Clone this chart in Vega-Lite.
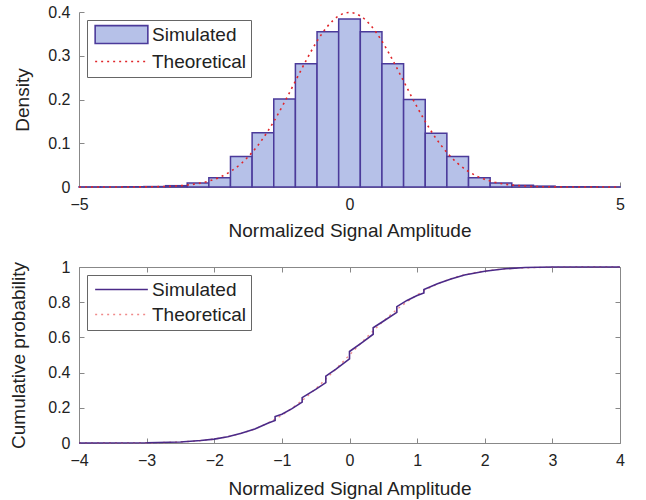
{
  "$schema": "https://vega.github.io/schema/vega-lite/v6.json",
  "padding": {"left": 9, "top": 4, "right": 5, "bottom": 1},
  "background": "white",
  "spacing": 18,
  "config": {
    "font": "Liberation Sans",
    "axis": {
      "labelFont": "Liberation Sans", "labelFontSize": 16, "labelColor": "#222",
      "titleFont": "Liberation Sans", "titleFontSize": 19, "titleFontWeight": "normal", "titleColor": "#222",
      "domainColor": "#888", "tickColor": "#888", "tickSize": -5, "grid": false, "labelPadding": 14,
      "labelFlush": false, "labelOverlap": false, "format": "~g"
    },
    "legend": {
      "labelFont": "Liberation Sans", "labelFontSize": 19, "labelColor": "#222",
      "strokeColor": "#666", "fillColor": "white", "padding": 5, "rowPadding": 5,
      "labelOffset": 21, "symbolOffset": 20, "symbolSize": 289, "symbolStrokeWidth": 1.6, "offset": 8, "orient": "top-left"
    }
  },
  "resolve": {"scale": {"stroke": "independent", "color": "independent"}, "legend": {"stroke": "independent", "color": "independent"}},
  "vconcat": [
    {
      "width": 541,
      "height": 175,
      "view": {"stroke": null},
      "layer": [
        {
          "data": {"values": [
            {"x0": -5.0, "x1": -4.6, "density": 0.0003, "series": "Simulated"},
            {"x0": -4.6, "x1": -4.2, "density": 0.0003, "series": "Simulated"},
            {"x0": -4.2, "x1": -3.8, "density": 0.0006, "series": "Simulated"},
            {"x0": -3.8, "x1": -3.4, "density": 0.001, "series": "Simulated"},
            {"x0": -3.4, "x1": -3.0, "density": 0.003, "series": "Simulated"},
            {"x0": -3.0, "x1": -2.6, "density": 0.009, "series": "Simulated"},
            {"x0": -2.6, "x1": -2.2, "density": 0.021, "series": "Simulated"},
            {"x0": -2.2, "x1": -1.8, "density": 0.07, "series": "Simulated"},
            {"x0": -1.8, "x1": -1.4, "density": 0.124, "series": "Simulated"},
            {"x0": -1.4, "x1": -1.0, "density": 0.201, "series": "Simulated"},
            {"x0": -1.0, "x1": -0.6, "density": 0.282, "series": "Simulated"},
            {"x0": -0.6, "x1": -0.2, "density": 0.355, "series": "Simulated"},
            {"x0": -0.2, "x1": 0.2, "density": 0.384, "series": "Simulated"},
            {"x0": 0.2, "x1": 0.6, "density": 0.355, "series": "Simulated"},
            {"x0": 0.6, "x1": 1.0, "density": 0.282, "series": "Simulated"},
            {"x0": 1.0, "x1": 1.4, "density": 0.2, "series": "Simulated"},
            {"x0": 1.4, "x1": 1.8, "density": 0.123, "series": "Simulated"},
            {"x0": 1.8, "x1": 2.2, "density": 0.07, "series": "Simulated"},
            {"x0": 2.2, "x1": 2.6, "density": 0.021, "series": "Simulated"},
            {"x0": 2.6, "x1": 3.0, "density": 0.009, "series": "Simulated"},
            {"x0": 3.0, "x1": 3.4, "density": 0.004, "series": "Simulated"},
            {"x0": 3.4, "x1": 3.8, "density": 0.002, "series": "Simulated"},
            {"x0": 3.8, "x1": 4.2, "density": 0.0008, "series": "Simulated"},
            {"x0": 4.2, "x1": 4.6, "density": 0.0004, "series": "Simulated"},
            {"x0": 4.6, "x1": 5.0, "density": 0.0003, "series": "Simulated"}
          ]},
          "mark": {"type": "bar", "fill": "#b6c1e8", "strokeWidth": 1.5, "fillOpacity": 1, "strokeOpacity": 1},
          "encoding": {
            "x": {"field": "x0", "type": "quantitative", "scale": {"domain": [-5, 5], "nice": false},
                  "axis": {"values": [-5, 0, 5], "title": "Normalized Signal Amplitude", "titlePadding": 9}},
            "x2": {"field": "x1"},
            "y": {"field": "density", "type": "quantitative", "scale": {"domain": [0, 0.4], "nice": false},
                  "axis": {"values": [0, 0.1, 0.2, 0.3, 0.4], "title": "Density", "titlePadding": 15}},
            "y2": {"datum": 0},
            "stroke": {"field": "series", "type": "nominal",
                      "scale": {"domain": ["Simulated", "Theoretical"], "range": ["#4b3a9a", "#e0262a"]},
                      "legend": {"title": null,
                        "encode": {"symbols": {"update": {
                          "shape": {"signal": "datum.value === 'Simulated' ? 'M-3.1,-1.05H3.1V1.05H-3.1Z' : 'M-3.1,0H3.1'"},
                          "fill": {"signal": "datum.value === 'Simulated' ? '#b6c1e8' : 'transparent'"},
                          "strokeDash": {"signal": "datum.value === 'Simulated' ? [1, 0] : [2, 4]"},
                          "opacity": {"value": 1}
                        }}}}}
          }
        },
        {
          "data": {"values": [
            {"x": -5.0, "pdf": 0.0, "series": "Theoretical"},
            {"x": -4.6, "pdf": 0.0, "series": "Theoretical"},
            {"x": -4.2, "pdf": 0.0001, "series": "Theoretical"},
            {"x": -4.0, "pdf": 0.0001, "series": "Theoretical"},
            {"x": -3.8, "pdf": 0.0003, "series": "Theoretical"},
            {"x": -3.6, "pdf": 0.0006, "series": "Theoretical"},
            {"x": -3.4, "pdf": 0.0012, "series": "Theoretical"},
            {"x": -3.2, "pdf": 0.0024, "series": "Theoretical"},
            {"x": -3.0, "pdf": 0.0044, "series": "Theoretical"},
            {"x": -2.8, "pdf": 0.0079, "series": "Theoretical"},
            {"x": -2.6, "pdf": 0.0136, "series": "Theoretical"},
            {"x": -2.4, "pdf": 0.0224, "series": "Theoretical"},
            {"x": -2.2, "pdf": 0.0355, "series": "Theoretical"},
            {"x": -2.0, "pdf": 0.054, "series": "Theoretical"},
            {"x": -1.8, "pdf": 0.079, "series": "Theoretical"},
            {"x": -1.6, "pdf": 0.1109, "series": "Theoretical"},
            {"x": -1.4, "pdf": 0.1497, "series": "Theoretical"},
            {"x": -1.2, "pdf": 0.1942, "series": "Theoretical"},
            {"x": -1.0, "pdf": 0.242, "series": "Theoretical"},
            {"x": -0.8, "pdf": 0.2897, "series": "Theoretical"},
            {"x": -0.6, "pdf": 0.3332, "series": "Theoretical"},
            {"x": -0.4, "pdf": 0.3683, "series": "Theoretical"},
            {"x": -0.2, "pdf": 0.391, "series": "Theoretical"},
            {"x": 0.0, "pdf": 0.3989, "series": "Theoretical"},
            {"x": 0.2, "pdf": 0.391, "series": "Theoretical"},
            {"x": 0.4, "pdf": 0.3683, "series": "Theoretical"},
            {"x": 0.6, "pdf": 0.3332, "series": "Theoretical"},
            {"x": 0.8, "pdf": 0.2897, "series": "Theoretical"},
            {"x": 1.0, "pdf": 0.242, "series": "Theoretical"},
            {"x": 1.2, "pdf": 0.1942, "series": "Theoretical"},
            {"x": 1.4, "pdf": 0.1497, "series": "Theoretical"},
            {"x": 1.6, "pdf": 0.1109, "series": "Theoretical"},
            {"x": 1.8, "pdf": 0.079, "series": "Theoretical"},
            {"x": 2.0, "pdf": 0.054, "series": "Theoretical"},
            {"x": 2.2, "pdf": 0.0355, "series": "Theoretical"},
            {"x": 2.4, "pdf": 0.0224, "series": "Theoretical"},
            {"x": 2.6, "pdf": 0.0136, "series": "Theoretical"},
            {"x": 2.8, "pdf": 0.0079, "series": "Theoretical"},
            {"x": 3.0, "pdf": 0.0044, "series": "Theoretical"},
            {"x": 3.2, "pdf": 0.0024, "series": "Theoretical"},
            {"x": 3.4, "pdf": 0.0012, "series": "Theoretical"},
            {"x": 3.6, "pdf": 0.0006, "series": "Theoretical"},
            {"x": 3.8, "pdf": 0.0003, "series": "Theoretical"},
            {"x": 4.0, "pdf": 0.0001, "series": "Theoretical"},
            {"x": 4.2, "pdf": 0.0001, "series": "Theoretical"},
            {"x": 4.6, "pdf": 0.0, "series": "Theoretical"},
            {"x": 5.0, "pdf": 0.0, "series": "Theoretical"}
          ]},
          "mark": {"type": "line", "strokeDash": [2, 4], "strokeWidth": 1.6, "interpolate": "monotone"},
          "encoding": {
            "x": {"field": "x", "type": "quantitative"},
            "y": {"field": "pdf", "type": "quantitative"},
            "stroke": {"field": "series", "type": "nominal",
                      "legend": {"title": null,
                        "encode": {"symbols": {"update": {
                          "shape": {"signal": "datum.value === 'Simulated' ? 'M-3.1,-1.05H3.1V1.05H-3.1Z' : 'M-3.1,0H3.1'"},
                          "fill": {"signal": "datum.value === 'Simulated' ? '#b6c1e8' : 'transparent'"},
                          "strokeDash": {"signal": "datum.value === 'Simulated' ? [1, 0] : [2, 4]"},
                          "opacity": {"value": 1}
                        }}}}}
          }
        }
      ]
    },
    {
      "width": 541,
      "height": 176,
      "view": {"stroke": "#888"},
      "resolve": {"axis": {"x": "independent", "y": "independent"}},
      "layer": [
        {
          "data": {"values": [
            {"x": -4.0, "cdf": 0.0, "series": "Theoretical"},
            {"x": -3.5, "cdf": 0.0002, "series": "Theoretical"},
            {"x": -3.0, "cdf": 0.0013, "series": "Theoretical"},
            {"x": -2.75, "cdf": 0.003, "series": "Theoretical"},
            {"x": -2.5, "cdf": 0.0062, "series": "Theoretical"},
            {"x": -2.25, "cdf": 0.0122, "series": "Theoretical"},
            {"x": -2.0, "cdf": 0.0228, "series": "Theoretical"},
            {"x": -1.75, "cdf": 0.0401, "series": "Theoretical"},
            {"x": -1.5, "cdf": 0.0668, "series": "Theoretical"},
            {"x": -1.25, "cdf": 0.1056, "series": "Theoretical"},
            {"x": -1.0, "cdf": 0.1587, "series": "Theoretical"},
            {"x": -0.75, "cdf": 0.2266, "series": "Theoretical"},
            {"x": -0.5, "cdf": 0.3085, "series": "Theoretical"},
            {"x": -0.25, "cdf": 0.4013, "series": "Theoretical"},
            {"x": 0.0, "cdf": 0.5, "series": "Theoretical"},
            {"x": 0.25, "cdf": 0.5987, "series": "Theoretical"},
            {"x": 0.5, "cdf": 0.6915, "series": "Theoretical"},
            {"x": 0.75, "cdf": 0.7734, "series": "Theoretical"},
            {"x": 1.0, "cdf": 0.8413, "series": "Theoretical"},
            {"x": 1.25, "cdf": 0.8944, "series": "Theoretical"},
            {"x": 1.5, "cdf": 0.9332, "series": "Theoretical"},
            {"x": 1.75, "cdf": 0.9599, "series": "Theoretical"},
            {"x": 2.0, "cdf": 0.9772, "series": "Theoretical"},
            {"x": 2.25, "cdf": 0.9878, "series": "Theoretical"},
            {"x": 2.5, "cdf": 0.9938, "series": "Theoretical"},
            {"x": 2.75, "cdf": 0.997, "series": "Theoretical"},
            {"x": 3.0, "cdf": 0.9987, "series": "Theoretical"},
            {"x": 3.5, "cdf": 0.9998, "series": "Theoretical"},
            {"x": 4.0, "cdf": 1.0, "series": "Theoretical"}
          ]},
          "mark": {"type": "line", "strokeDash": [2, 4], "strokeWidth": 1.4, "interpolate": "monotone"},
          "encoding": {
            "x": {"field": "x", "type": "quantitative", "scale": {"domain": [-4, 4], "nice": false},
                  "axis": {"values": [-4, -3, -2, -1, 0, 1, 2, 3, 4], "title": "Normalized Signal Amplitude", "titlePadding": 11, "domain": false}},
            "y": {"field": "cdf", "type": "quantitative", "scale": {"domain": [0, 1], "nice": false},
                  "axis": {"values": [0, 0.2, 0.4, 0.6, 0.8, 1], "title": "Cumulative probability", "titlePadding": 19, "domain": false}},
            "color": {"field": "series", "type": "nominal",
                      "scale": {"domain": ["Simulated", "Theoretical"], "range": ["#4b2a88", "#f08a8a"]},
                      "legend": {"title": null,
                        "encode": {"symbols": {"update": {
                          "shape": {"value": "M-3.1,0H3.1"},
                          "fill": {"value": "transparent"},
                          "strokeDash": {"signal": "datum.value === 'Simulated' ? [1, 0] : [2, 4]"},
                          "opacity": {"value": 1}
                        }}}}}
          }
        },
        {
          "data": {"values": [
            {"i": 0, "x": -4.0, "cdf": 0.0, "series": "Simulated"},
            {"i": 1, "x": -3.0, "cdf": 0.001, "series": "Simulated"},
            {"i": 2, "x": -2.5, "cdf": 0.006, "series": "Simulated"},
            {"i": 3, "x": -2.2, "cdf": 0.014, "series": "Simulated"},
            {"i": 4, "x": -2.0, "cdf": 0.022, "series": "Simulated"},
            {"i": 5, "x": -1.8, "cdf": 0.036, "series": "Simulated"},
            {"i": 6, "x": -1.6, "cdf": 0.055, "series": "Simulated"},
            {"i": 7, "x": -1.4, "cdf": 0.08, "series": "Simulated"},
            {"i": 8, "x": -1.2, "cdf": 0.114, "series": "Simulated"},
            {"i": 9, "x": -1.1, "cdf": 0.128, "series": "Simulated"},
            {"i": 10, "x": -1.1, "cdf": 0.15, "series": "Simulated"},
            {"i": 11, "x": -1.0, "cdf": 0.163, "series": "Simulated"},
            {"i": 12, "x": -0.85, "cdf": 0.195, "series": "Simulated"},
            {"i": 13, "x": -0.7, "cdf": 0.232, "series": "Simulated"},
            {"i": 14, "x": -0.7, "cdf": 0.258, "series": "Simulated"},
            {"i": 15, "x": -0.5, "cdf": 0.305, "series": "Simulated"},
            {"i": 16, "x": -0.35, "cdf": 0.343, "series": "Simulated"},
            {"i": 17, "x": -0.35, "cdf": 0.38, "series": "Simulated"},
            {"i": 18, "x": -0.2, "cdf": 0.42, "series": "Simulated"},
            {"i": 19, "x": 0.0, "cdf": 0.478, "series": "Simulated"},
            {"i": 20, "x": 0.0, "cdf": 0.52, "series": "Simulated"},
            {"i": 21, "x": 0.2, "cdf": 0.575, "series": "Simulated"},
            {"i": 22, "x": 0.35, "cdf": 0.618, "series": "Simulated"},
            {"i": 23, "x": 0.35, "cdf": 0.655, "series": "Simulated"},
            {"i": 24, "x": 0.5, "cdf": 0.692, "series": "Simulated"},
            {"i": 25, "x": 0.7, "cdf": 0.742, "series": "Simulated"},
            {"i": 26, "x": 0.7, "cdf": 0.775, "series": "Simulated"},
            {"i": 27, "x": 0.85, "cdf": 0.81, "series": "Simulated"},
            {"i": 28, "x": 1.0, "cdf": 0.838, "series": "Simulated"},
            {"i": 29, "x": 1.1, "cdf": 0.853, "series": "Simulated"},
            {"i": 30, "x": 1.1, "cdf": 0.872, "series": "Simulated"},
            {"i": 31, "x": 1.3, "cdf": 0.905, "series": "Simulated"},
            {"i": 32, "x": 1.5, "cdf": 0.932, "series": "Simulated"},
            {"i": 33, "x": 1.7, "cdf": 0.955, "series": "Simulated"},
            {"i": 34, "x": 2.0, "cdf": 0.976, "series": "Simulated"},
            {"i": 35, "x": 2.3, "cdf": 0.99, "series": "Simulated"},
            {"i": 36, "x": 2.6, "cdf": 0.997, "series": "Simulated"},
            {"i": 37, "x": 3.0, "cdf": 1.0, "series": "Simulated"},
            {"i": 38, "x": 4.0, "cdf": 1.0, "series": "Simulated"}
          ]},
          "mark": {"type": "line", "strokeWidth": 1.6},
          "encoding": {
            "x": {"field": "x", "type": "quantitative",
                  "axis": {"orient": "top", "values": [-4, -3, -2, -1, 0, 1, 2, 3, 4], "labels": false, "title": null, "domain": false}},
            "y": {"field": "cdf", "type": "quantitative",
                  "axis": {"orient": "right", "values": [0, 0.2, 0.4, 0.6, 0.8, 1], "labels": false, "title": null, "domain": false}},
            "color": {"field": "series", "type": "nominal",
                      "legend": {"title": null,
                        "encode": {"symbols": {"update": {
                          "shape": {"value": "M-3.1,0H3.1"},
                          "fill": {"value": "transparent"},
                          "strokeDash": {"signal": "datum.value === 'Simulated' ? [1, 0] : [2, 4]"},
                          "opacity": {"value": 1}
                        }}}}},
            "order": {"field": "i", "type": "quantitative"}
          }
        }
      ]
    }
  ]
}
